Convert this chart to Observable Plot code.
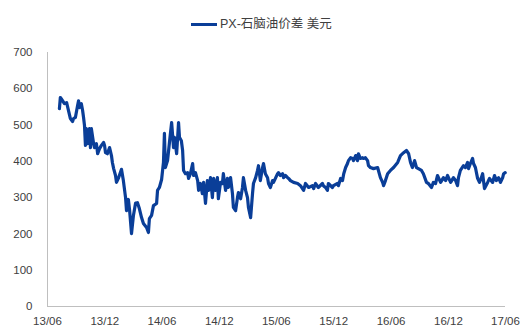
<!DOCTYPE html>
<html>
<head>
<meta charset="utf-8">
<script src="https://cdn.jsdelivr.net/npm/d3@7"></script>
<script src="https://cdn.jsdelivr.net/npm/@observablehq/plot@0.6"></script>
<style>
  html, body { margin: 0; padding: 0; background: #fff; }
  body { width: 523px; height: 332px; overflow: hidden; font-family: "Liberation Sans", "Noto Sans CJK SC", sans-serif; }
  #legend { position: relative; height: 40px; }
  #legend .swatch { position: absolute; left: 191px; top: 22.5px; width: 26px; height: 3px; background: #0a3e98; }
  #legend .label { position: absolute; left: 220px; top: 15px; font-size: 12.5px; line-height: 18px; color: #404040;
                   font-family: "Liberation Sans", "Noto Sans CJK SC", sans-serif; white-space: nowrap; }
  #chart svg { display: block; }
</style>
</head>
<body>
<div id="legend"><div class="swatch"></div><div class="label">PX-石脑油价差 美元</div></div>
<div id="chart"></div>
<script>
// PX-naphtha spread, USD/t
const seriesName = "PX-石脑油价差 美元";

const dates = [
  "2013-07-09","2013-07-12","2013-07-19","2013-07-25","2013-08-01","2013-08-04","2013-08-07","2013-08-13","2013-08-20","2013-08-23","2013-08-29",
  "2013-09-05","2013-09-08","2013-09-11","2013-09-17","2013-09-21","2013-09-24","2013-09-27","2013-09-30",
  "2013-10-03","2013-10-07","2013-10-13","2013-10-16","2013-10-19","2013-10-26","2013-10-29",
  "2013-11-04","2013-11-08","2013-11-14","2013-11-20","2013-11-27","2013-11-30",
  "2013-12-03","2013-12-09","2013-12-16","2013-12-22","2013-12-25","2013-12-29",
  "2014-01-04","2014-01-07","2014-01-13","2014-01-23","2014-01-29",
  "2014-02-05","2014-02-08","2014-02-14","2014-02-18","2014-02-24",
  "2014-03-02","2014-03-09","2014-03-15","2014-03-21","2014-03-28",
  "2014-04-03","2014-04-13","2014-04-19","2014-04-22","2014-04-29",
  "2014-05-05","2014-05-15","2014-05-18","2014-05-24","2014-05-31",
  "2014-06-06","2014-06-09","2014-06-12","2014-06-19","2014-06-25",
  "2014-07-02","2014-07-08","2014-07-11","2014-07-18","2014-07-24","2014-07-27",
  "2014-08-02","2014-08-06","2014-08-09","2014-08-15","2014-08-22","2014-08-25","2014-08-31",
  "2014-09-07","2014-09-10","2014-09-16","2014-09-23","2014-09-26",
  "2014-10-02","2014-10-08","2014-10-12","2014-10-18","2014-10-24","2014-10-28",
  "2014-11-03","2014-11-09","2014-11-13","2014-11-19","2014-11-25","2014-11-28",
  "2014-12-05","2014-12-11","2014-12-14","2014-12-21","2014-12-27","2014-12-30",
  "2015-01-06","2015-01-12","2015-01-15","2015-01-22","2015-01-28","2015-01-31",
  "2015-02-07","2015-02-13","2015-02-16","2015-02-23",
  "2015-03-01","2015-03-04","2015-03-11","2015-03-17","2015-03-20","2015-03-27",
  "2015-04-02","2015-04-05","2015-04-11","2015-04-18","2015-04-21","2015-04-27",
  "2015-05-04","2015-05-07","2015-05-13","2015-05-20","2015-05-23","2015-05-29",
  "2015-06-05","2015-06-08","2015-06-14","2015-06-21","2015-06-24","2015-06-30",
  "2015-07-07","2015-07-10","2015-07-16","2015-07-26",
  "2015-08-08","2015-08-17","2015-08-27",
  "2015-09-02","2015-09-12","2015-09-24","2015-09-28",
  "2015-10-04","2015-10-13","2015-10-26","2015-10-29",
  "2015-11-05","2015-11-11","2015-11-14","2015-11-27","2015-11-30",
  "2015-12-13","2015-12-16","2015-12-23","2015-12-29",
  "2016-01-02","2016-01-08","2016-01-14","2016-01-17","2016-01-24","2016-01-30",
  "2016-02-02","2016-02-09","2016-02-15","2016-02-18","2016-02-24",
  "2016-03-02","2016-03-05","2016-03-11","2016-03-18","2016-03-21","2016-03-27",
  "2016-04-06","2016-04-19","2016-04-28",
  "2016-05-05","2016-05-08","2016-05-14","2016-05-21","2016-05-30",
  "2016-06-09","2016-06-22",
  "2016-07-01","2016-07-11","2016-07-20","2016-07-27",
  "2016-08-02","2016-08-08","2016-08-15","2016-08-21","2016-08-27",
  "2016-09-06","2016-09-12","2016-09-22","2016-09-28",
  "2016-10-08","2016-10-14","2016-10-21","2016-10-27",
  "2016-11-06","2016-11-15","2016-11-22","2016-11-28",
  "2016-12-08","2016-12-17","2016-12-24","2016-12-30",
  "2017-01-02","2017-01-08","2017-01-18","2017-01-24","2017-01-31",
  "2017-02-03","2017-02-09","2017-02-16","2017-02-19","2017-02-25",
  "2017-03-04","2017-03-10","2017-03-16","2017-03-20","2017-03-26",
  "2017-04-05","2017-04-11","2017-04-21","2017-04-27",
  "2017-05-03","2017-05-10","2017-05-16","2017-05-23","2017-05-26","2017-05-31"
];

const spread = [
  545,576,567,559,562,551,540,518,510,518,521,
  554,567,548,559,540,521,499,444,
  490,449,490,438,490,449,438,
  449,421,435,444,452,444,
  424,421,438,416,397,380,
  361,342,353,378,347,
  300,264,295,264,201,
  250,285,286,270,245,
  229,218,204,242,251,
  278,284,320,328,350,
  398,477,383,402,452,
  507,438,466,421,507,466,
  457,430,375,366,369,353,366,
  394,361,369,347,320,
  339,311,342,284,347,320,
  355,300,353,320,355,297,
  342,339,366,320,353,328,
  355,311,273,264,300,314,
  297,328,355,320,
  300,273,245,311,339,355,
  375,388,347,383,394,366,
  355,339,328,347,342,353,
  366,369,361,366,355,361,
  355,353,347,342,
  339,333,320,
  339,328,333,325,
  339,328,339,333,
  328,320,339,328,333,
  339,333,353,347,
  366,383,394,402,410,408,
  402,416,402,421,408,
  410,408,410,402,388,383,
  380,383,355,
  342,333,347,366,375,
  383,397,
  416,424,430,421,
  397,383,402,383,380,
  375,366,342,339,
  328,342,339,361,
  342,355,347,361,
  342,355,347,333,
  355,375,388,383,397,
  380,394,408,394,383,
  353,342,355,366,325,
  342,353,342,361,
  347,355,342,355,366,369
];

const xTicks = ["2013-06-01","2013-12-01","2014-06-01","2014-12-01","2015-06-01","2015-12-01","2016-06-01","2016-12-01","2017-06-01"];
const yTicks = [0, 100, 200, 300, 400, 500, 600, 700];

const parse = d3.utcParse("%Y-%m-%d");
const rows = dates.map((d, i) => ({date: parse(d), value: spread[i]}));
const tickDates = xTicks.map(parse);

const axisGray = "#bfbfbf";
const textGray = "#404040";

const chart = Plot.plot({
  width: 523,
  height: 292,
  marginTop: 12,
  marginBottom: 26,
  marginLeft: 47,
  marginRight: 18,
  style: {fontFamily: "Liberation Sans, sans-serif", fontSize: "11.5px", color: textGray, background: "#fff"},
  x: {type: "utc", domain: [tickDates[0], tickDates[tickDates.length - 1]]},
  y: {domain: [0, 700]},
  marks: [
    Plot.ruleX([tickDates[0]], {stroke: axisGray, strokeWidth: 1}),
    Plot.ruleY([0], {stroke: axisGray, strokeWidth: 1}),
    Plot.axisY(yTicks, {tickSize: 0, tickPadding: 15, label: null, fill: textGray}),
    Plot.axisX(tickDates, {tickSize: 0, tickPadding: 10, label: null, fill: textGray, tickFormat: d3.utcFormat("%y/%m")}),
    Plot.line(rows, {x: "date", y: "value", stroke: "#0a3e98", strokeWidth: 3.2, strokeLinejoin: "round", strokeLinecap: "round"})
  ]
});

document.getElementById("chart").appendChild(chart);
</script>
</body>
</html>
